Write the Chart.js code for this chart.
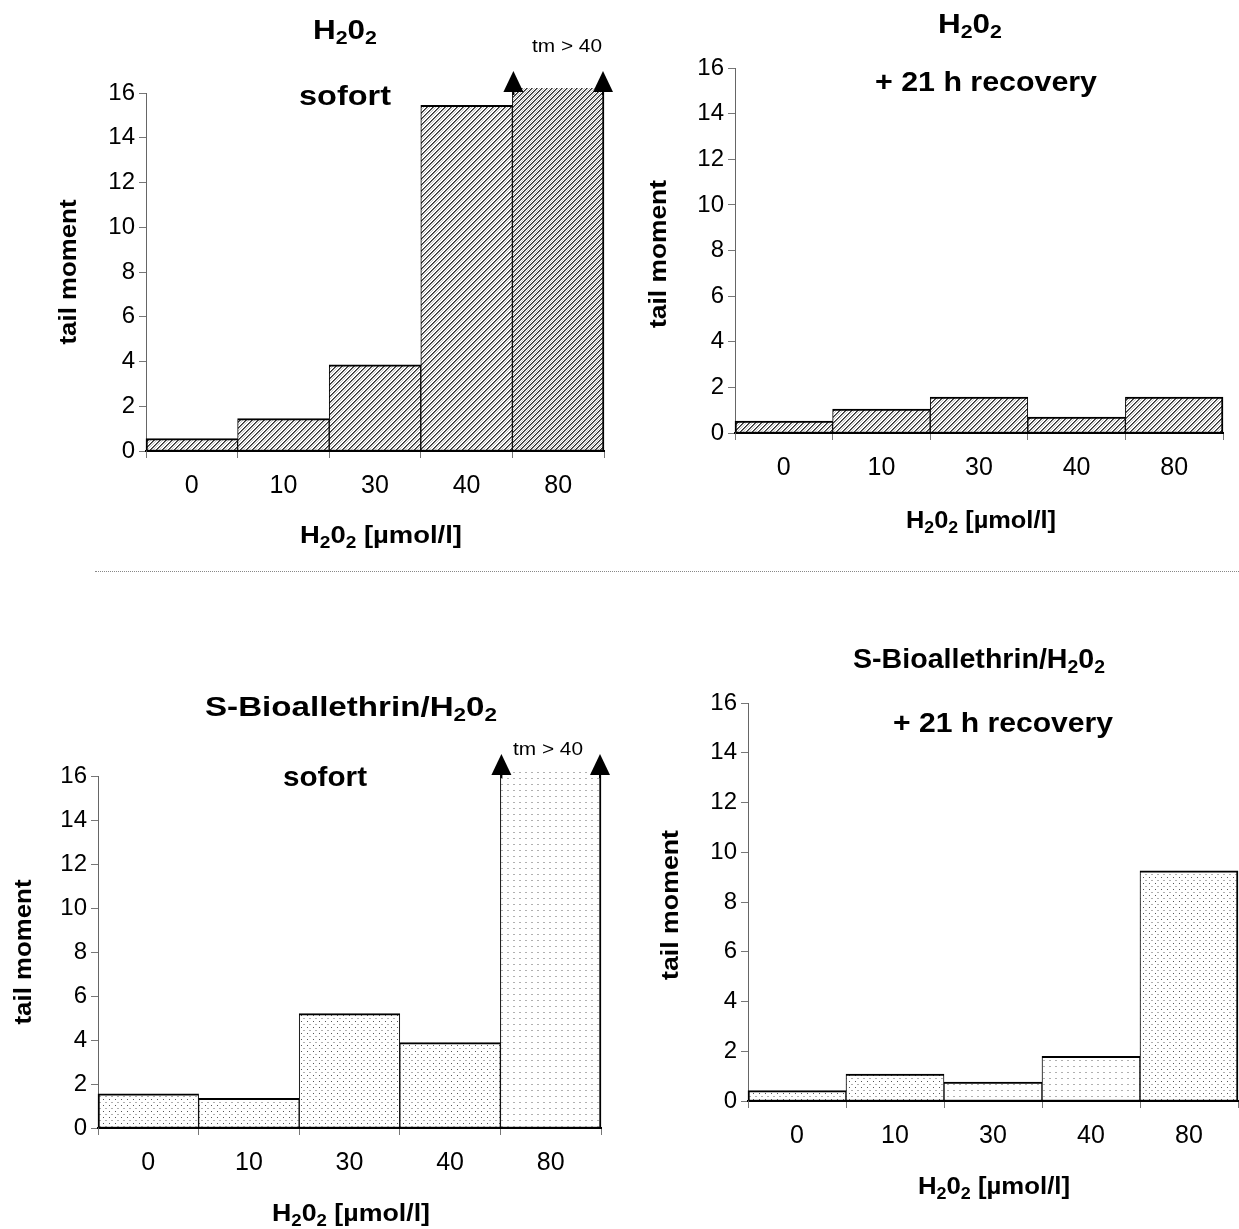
<!DOCTYPE html>
<html>
<head>
<meta charset="utf-8">
<script src="https://cdn.jsdelivr.net/npm/chart.js@4.4.1/dist/chart.umd.min.js"></script>
<style>
  html, body { margin: 0; padding: 0; background: #fff; }
  #page { position: relative; width: 1239px; height: 1229px; overflow: hidden; }
  #page canvas { position: absolute; }
  #divider { position: absolute; left: 95px; top: 571px; width: 1144px; border-top: 1px dotted #888; }
</style>
</head>
<body>
<div id="page">
  <canvas id="c1" width="620" height="570" style="left:0;top:0"></canvas>
  <canvas id="c2" width="619" height="570" style="left:620px;top:0"></canvas>
  <div id="divider"></div>
  <canvas id="c3" width="620" height="629" style="left:0;top:600px"></canvas>
  <canvas id="c4" width="619" height="629" style="left:620px;top:600px"></canvas>
</div>
<script>
//-----------------------------------------------------------------------------
// Data
//-----------------------------------------------------------------------------

var categories = ['0', '10', '30', '40', '80'];
var yMax = 16, yStep = 2;

// tail moment per H2O2 concentration (80 µmol/l in "sofort" is off scale: tm > 40)
var h2o2Sofort    = [0.55, 1.45, 3.85, 15.45, 40];
var h2o2Recovery  = [0.52, 1.05, 1.58, 0.70, 1.58];
var bioSofort     = [1.55, 1.35, 5.2, 3.88, 40];
var bioRecovery   = [0.42, 1.08, 0.76, 1.80, 9.25];

var FONT = '"Liberation Sans", Arial, Helvetica, sans-serif';
var H2O2 = [['H'], ['2', true], ['0'], ['2', true]];

//-----------------------------------------------------------------------------
// Fill patterns
//-----------------------------------------------------------------------------

var Patterns = {
  tile: function(w, h, draw) {
    var c = document.createElement('canvas');
    c.width = w; c.height = h;
    var g = c.getContext('2d');
    g.fillStyle = '#fff';
    g.fillRect(0, 0, w, h);
    draw(g);
    return g.createPattern(c, 'repeat');
  },
  // fine "////" texture, dark stroke with a grey shadow
  hatch: function(size) {
    return Patterns.tile(size, size, function(g) {
      for (var i = 0; i < size; i++) {
        var y = size - 1 - i;
        g.fillStyle = '#2e2e2e';
        g.fillRect(i, y, 1, 1);
        g.fillStyle = '#7a7a7a';
        g.fillRect((i + 1) % size, y, 1, 1);
        g.fillStyle = '#c4c4c4';
        g.fillRect((i + 3) % size, y, 1, 1);
      }
    });
  },
  dots: function(dark, light) {
    return Patterns.tile(6, 6, function(g) {
      if (dark) { g.fillStyle = '#555'; g.fillRect(1, 1, 1, 1); }
      if (light) { g.fillStyle = '#b0b0b0'; g.fillRect(3, 4, 2, 1); }
    });
  }
};

//-----------------------------------------------------------------------------
// Text helpers
//-----------------------------------------------------------------------------

// parts: [[text, isSubscript], ...], drawn centred on (x, y)
function drawRich(ctx, parts, x, y, size, bold, width, angle) {
  var weight = bold ? 'bold ' : '';
  var subSize = Math.round(size * 0.68);
  ctx.save();
  ctx.textBaseline = 'middle';
  ctx.textAlign = 'left';
  var total = 0;
  parts.forEach(function(p) {
    ctx.font = weight + (p[1] ? subSize : size) + 'px ' + FONT;
    total += ctx.measureText(p[0]).width;
  });
  var sx = width ? width / total : 1;
  ctx.translate(x, y);
  if (angle) ctx.rotate(angle);
  ctx.scale(sx, 1);
  var cx = -total / 2;
  parts.forEach(function(p) {
    ctx.font = weight + (p[1] ? subSize : size) + 'px ' + FONT;
    ctx.fillStyle = '#000';
    ctx.fillText(p[0], cx, p[1] ? size * 0.28 : 0);
    cx += ctx.measureText(p[0]).width;
  });
  ctx.restore();
}

function drawArrow(ctx, x, base) {
  ctx.save();
  ctx.fillStyle = '#000';
  ctx.beginPath();
  ctx.moveTo(x - 10, base);
  ctx.lineTo(x + 10, base);
  ctx.lineTo(x, base - 21);
  ctx.closePath();
  ctx.fill();
  ctx.restore();
}

//-----------------------------------------------------------------------------
// Chart
//-----------------------------------------------------------------------------

// spec.area: chart area in page pixels; spec.texts: labels in page pixels
function makeChart(id, offset, spec) {
  var canvas = document.getElementById(id);
  var n = spec.values.length;
  var a = spec.area;

  var annotate = {
    id: 'annotate',
    afterDraw: function(chart) {
      var ctx = chart.ctx;
      ctx.save();
      ctx.translate(-offset.x, -offset.y);
      spec.texts.forEach(function(t) {
        drawRich(ctx, t.parts, t.x, t.y, t.size, t.bold !== false, t.width, t.angle);
      });
      ctx.restore();
      if (spec.overflow) {
        // arrows on the off-scale bar
        var bar = chart.getDatasetMeta(0).data[n - 1];
        var top = chart.chartArea.top - 1;
        var edges = [bar.x - bar.width / 2 + 1, bar.x + bar.width / 2 - 1];
        ctx.save();
        ctx.strokeStyle = '#000';
        ctx.lineWidth = 2;
        edges.forEach(function(xx) {
          ctx.beginPath();
          ctx.moveTo(xx, chart.chartArea.top + 2);
          ctx.lineTo(xx, top - 10);
          ctx.stroke();
          drawArrow(ctx, xx, top);
        });
        ctx.restore();
      }
    }
  };

  return new Chart(canvas, {
    type: 'bar',
    data: {
      labels: categories,
      datasets: [{
        data: spec.values,
        backgroundColor: spec.fills,
        borderColor: '#000',
        borderWidth: function(c) {
          return { top: 2, bottom: 1, left: c.dataIndex === 0 ? 2 : 1, right: c.dataIndex === n - 1 ? 2 : 1 };
        },
        borderSkipped: false,
        categoryPercentage: 1,
        barPercentage: 1,
        clip: { left: 4, right: 4, top: spec.overflow ? 5 : 4, bottom: 4 }
      }]
    },
    options: {
      responsive: false,
      animation: false,
      events: [],
      layout: { padding: { top: a.top - offset.y, right: offset.x + canvas.width - a.right, left: 0, bottom: 0 } },
      plugins: { legend: { display: false }, tooltip: { enabled: false } },
      scales: {
        x: {
          grid: { offset: true, drawOnChartArea: false, tickLength: 7, color: '#777', lineWidth: 1 },
          border: { color: '#000', width: 2 },
          ticks: { color: '#000', font: { family: FONT, size: 25 }, padding: 13 },
          afterFit: function(s) { s.height = offset.y + canvas.height - a.bottom; }
        },
        y: {
          min: 0,
          max: yMax,
          grid: { drawOnChartArea: false, tickLength: 7, color: '#777', lineWidth: 1 },
          border: { color: '#666', width: 1 },
          ticks: { stepSize: yStep, color: '#000', font: { family: FONT, size: 24 }, padding: 4 },
          afterFit: function(s) { s.width = a.left - offset.x; }
        }
      }
    },
    plugins: [annotate]
  });
}

//-----------------------------------------------------------------------------
// Build the four panels
//-----------------------------------------------------------------------------

var hatch = Patterns.hatch(6), hatchDense = Patterns.hatch(5);
var dotMix = Patterns.dots(true, true), dotLight = Patterns.dots(false, true);
var axisTitleX = H2O2.concat([[' [µmol/l]']]);

makeChart('c1', { x: 0, y: 0 }, {
  values: h2o2Sofort,
  fills: [hatch, hatch, hatch, hatch, hatchDense],
  area: { left: 146, right: 604, top: 93, bottom: 451 },
  overflow: true,
  texts: [
    { parts: H2O2, x: 345, y: 31, size: 28, width: 64 },
    { parts: [['sofort']], x: 345, y: 97, size: 28, width: 92 },
    { parts: [['tail moment']], x: 70, y: 272, size: 23, width: 145, angle: -Math.PI / 2 },
    { parts: axisTitleX, x: 381, y: 537, size: 23, width: 162 },
    { parts: [['tm > 40']], x: 567, y: 47, size: 18, bold: false, width: 70 }
  ]
});

makeChart('c2', { x: 620, y: 0 }, {
  values: h2o2Recovery,
  fills: [hatch, hatch, hatch, hatch, hatch],
  area: { left: 735, right: 1223, top: 68, bottom: 433 },
  texts: [
    { parts: H2O2, x: 970, y: 25, size: 28, width: 64 },
    { parts: [['+ 21 h recovery']], x: 986, y: 83, size: 28, width: 222 },
    { parts: [['tail moment']], x: 660, y: 254, size: 23, width: 148, angle: -Math.PI / 2 },
    { parts: axisTitleX, x: 981, y: 522, size: 23, width: 150 }
  ]
});

makeChart('c3', { x: 0, y: 600 }, {
  values: bioSofort,
  fills: [dotMix, dotMix, dotMix, dotMix, dotLight],
  area: { left: 98, right: 601, top: 776, bottom: 1128 },
  overflow: true,
  texts: [
    { parts: [['S-Bioallethrin/H']].concat(H2O2.slice(1)), x: 351, y: 708, size: 28, width: 292 },
    { parts: [['sofort']], x: 325, y: 778, size: 28, width: 84 },
    { parts: [['tail moment']], x: 25, y: 952, size: 23, width: 145, angle: -Math.PI / 2 },
    { parts: axisTitleX, x: 351, y: 1215, size: 23, width: 158 },
    { parts: [['tm > 40']], x: 548, y: 750, size: 18, bold: false, width: 70 }
  ]
});

makeChart('c4', { x: 620, y: 600 }, {
  values: bioRecovery,
  fills: [dotMix, dotMix, dotLight, dotLight, dotMix],
  area: { left: 748, right: 1238, top: 703, bottom: 1101 },
  texts: [
    { parts: [['S-Bioallethrin/H']].concat(H2O2.slice(1)), x: 979, y: 660, size: 28, width: 252 },
    { parts: [['+ 21 h recovery']], x: 1003, y: 724, size: 28, width: 220 },
    { parts: [['tail moment']], x: 672, y: 905, size: 23, width: 150, angle: -Math.PI / 2 },
    { parts: axisTitleX, x: 994, y: 1188, size: 23, width: 152 }
  ]
});
</script>
</body>
</html>
